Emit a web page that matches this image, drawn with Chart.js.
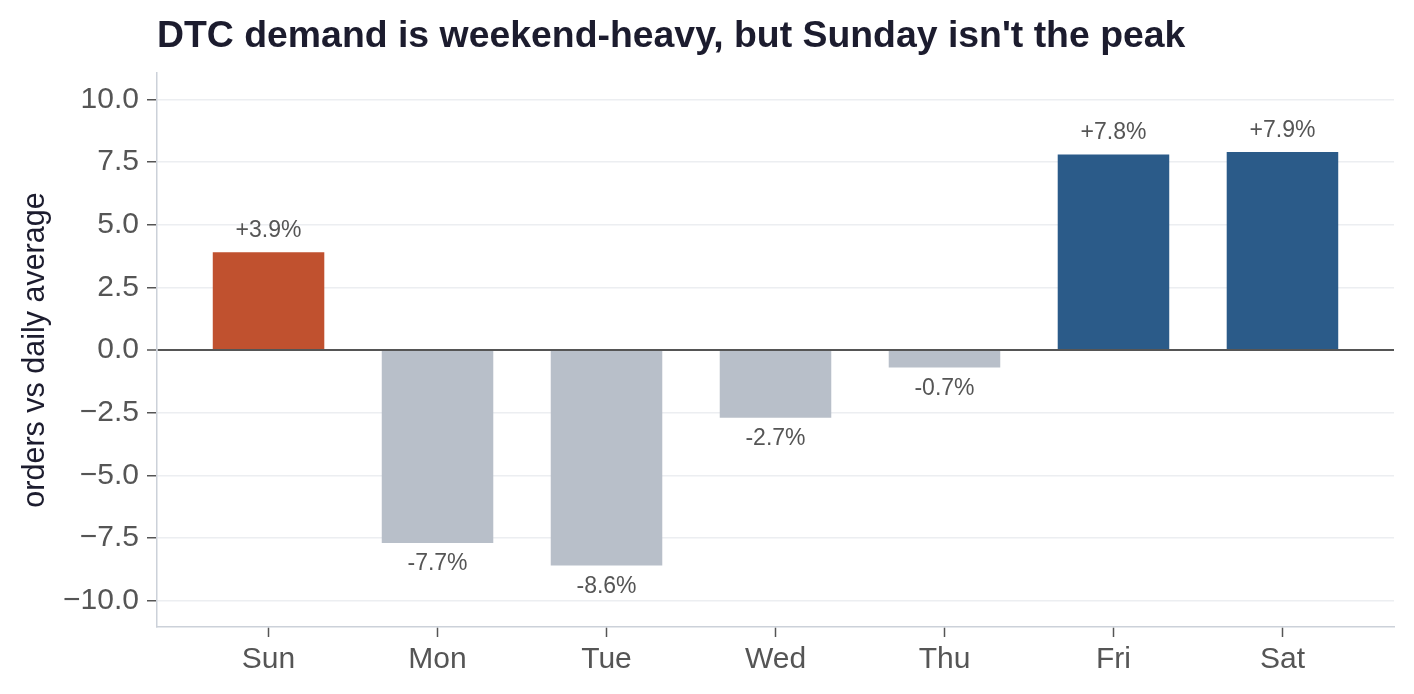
<!DOCTYPE html>
<html>
<head>
<meta charset="utf-8">
<script src="https://cdn.jsdelivr.net/npm/chart.js@4.4.1/dist/chart.umd.min.js"></script>
<style>
  html, body { margin: 0; padding: 0; background: #fff; }
  #wrap { width: 1414px; height: 694px; }
</style>
</head>
<body>
<div id="wrap"><canvas id="chart" width="1414" height="694"></canvas></div>
<script>
// data
const days = ['Sun', 'Mon', 'Tue', 'Wed', 'Thu', 'Fri', 'Sat'];
const pctVsAvg = [3.9, -7.7, -8.6, -2.7, -0.7, 7.8, 7.9];
const barColors = ['#c0512f', '#b8bfc9', '#b8bfc9', '#b8bfc9', '#b8bfc9', '#2b5b89', '#2b5b89'];
const yTicks = [-10, -7.5, -5, -2.5, 0, 2.5, 5, 7.5, 10];

const FONT = '"Liberation Sans", Arial, Helvetica, sans-serif';

// judul digambar sendiri supaya rata kiri dengan area chart
const titlePlugin = {
  id: 'titleLeft',
  afterDraw(chart) {
    const ctx = chart.ctx;
    ctx.save();
    ctx.font = 'bold 37.4px ' + FONT;
    ctx.fillStyle = '#1c1c2e';
    ctx.textAlign = 'left';
    ctx.textBaseline = 'alphabetic';
    ctx.fillText("DTC demand is weekend-heavy, but Sunday isn't the peak", chart.chartArea.left, 47);
    ctx.restore();
  }
};

// label nilai di atas / bawah batang
const barLabels = {
  id: 'barLabels',
  afterDatasetsDraw(chart) {
    const ctx = chart.ctx;
    const meta = chart.getDatasetMeta(0);
    ctx.save();
    ctx.font = '23px ' + FONT;
    ctx.fillStyle = '#555555';
    ctx.textAlign = 'center';
    ctx.textBaseline = 'alphabetic';
    meta.data.forEach((bar, i) => {
      const v = pctVsAvg[i];
      const txt = (v > 0 ? '+' : '') + v.toFixed(1) + '%';
      const y = v >= 0 ? bar.y - 15 : bar.y + 27;
      ctx.fillText(txt, bar.x, y);
    });
    ctx.restore();
  }
};

new Chart(document.getElementById('chart'), {
  type: 'bar',
  data: {
    datasets: [{
      data: days.map((d, i) => ({ x: i, y: pctVsAvg[i] })),
      backgroundColor: barColors,
      categoryPercentage: 1,
      barPercentage: 0.66,
      borderWidth: 0,
    }]
  },
  options: {
    responsive: false,
    animation: false,
    devicePixelRatio: 1,
    layout: { padding: { top: 73, right: 20, left: 0, bottom: 0 } },
    plugins: { legend: { display: false }, tooltip: { enabled: false } },
    scales: {
      x: {
        type: 'linear',
        offset: false,
        min: -0.66,
        max: 6.66,
        afterFit(s) { s.height = 67; },
        afterBuildTicks(s) { s.ticks = days.map((d, i) => ({ value: i })); },
        ticks: {
          callback: (v) => days[v] ?? '',
          font: { size: 30, family: FONT },
          color: '#555555',
          padding: 5,
          maxRotation: 0,
        },
        grid: { offset: false, drawOnChartArea: false, tickLength: 10, tickColor: '#555555', tickWidth: 1.5 },
        border: { color: '#ccd1d9', width: 1.5 },
      },
      y: {
        min: -11.05,
        max: 11.05,
        afterFit(s) { s.width = 157; },
        afterBuildTicks(s) { s.ticks = yTicks.map(v => ({ value: v })); },
        ticks: {
          callback: (v) => v.toFixed(1).replace('-', '\u2212'),
          font: { size: 30, family: FONT },
          color: '#555555',
          padding: 8,
        },
        grid: {
          color: (c) => c.tick && c.tick.value === 0 ? '#555555' : '#eceef1',
          lineWidth: (c) => c.tick && c.tick.value === 0 ? 2 : 1.5,
          tickLength: 10,
          tickColor: '#555555',
          tickWidth: 1.5,
        },
        border: { color: '#ccd1d9', width: 1.5 },
        title: {
          display: true,
          text: 'orders vs daily average',
          font: { size: 30.5, family: FONT },
          color: '#1c1c2e',
          padding: { top: 17 },
        },
      }
    }
  },
  plugins: [titlePlugin, barLabels]
});
</script>
</body>
</html>
